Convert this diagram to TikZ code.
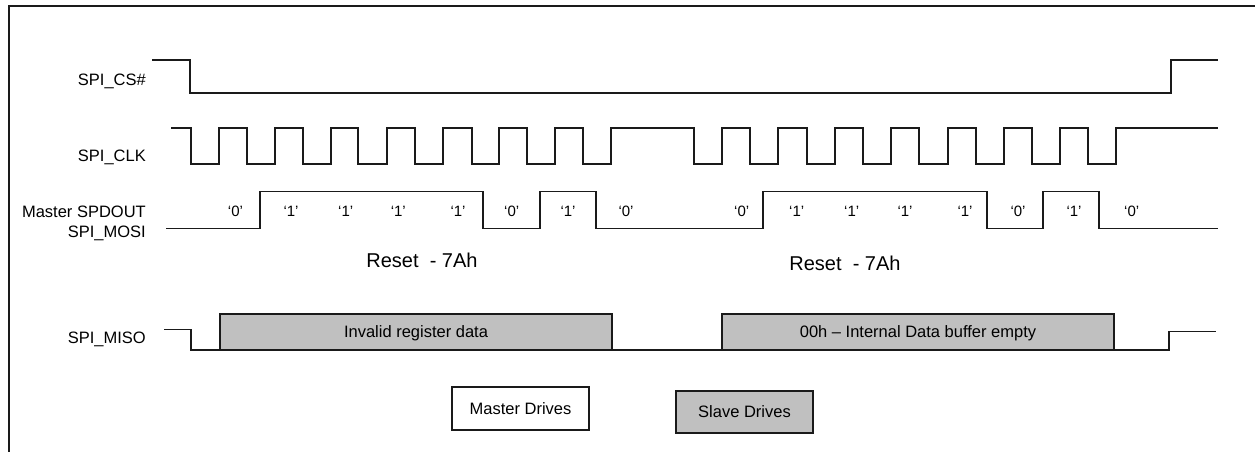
\documentclass[tikz,border=0pt]{standalone}
\usepackage{fontspec}
\setmainfont{Liberation Sans}
\definecolor{boxgray}{HTML}{C0C0C0}
\definecolor{ink}{HTML}{1A1A1A}
\tikzset{
  sig/.style={draw=ink, line width=1.5pt, line join=miter},
  databox/.style={draw=ink, line width=1.5pt, fill=boxgray},
  lbl/.style={anchor=base east, inner sep=0pt, font=\fontsize{16.5}{19.8}\selectfont},
  bit/.style={anchor=base, inner sep=0pt, font=\fontsize{15}{18}\selectfont},
  note/.style={anchor=base, inner sep=0pt, font=\fontsize{20}{24}\selectfont},
  boxtxt/.style={anchor=base, inner sep=0pt, font=\fontsize{16.5}{19.8}\selectfont}
}
\begin{document}
\begin{tikzpicture}[x=1pt,y=-1pt]
\useasboundingbox (0,0) rectangle (1255,452);
% outer frame (cropped)
\draw[ink, line width=2.2pt] (9,470) -- (9,6) -- (1270,6);

% signal names
\node[lbl] (ncs) at (146,85.7) {SPI\_CS\#};
\node[lbl] (nclk) at (146,161) {SPI\_CLK};
\node[lbl] (nmosi1) at (146,217.3) {Master SPDOUT};
\node[lbl] (nmosi2) at (146,237.5) {SPI\_MOSI};
\node[lbl] (nmiso) at (146,343.3) {SPI\_MISO};

% SPI_CS#
\draw[sig] (152,60) -- (190,60) -- (190,93) -- (1171,93) -- (1171,60) -- (1218,60);

% SPI_CLK
\draw[sig] (171,128)
  -- (191,128) -- (191,164) -- (219,164) -- (219,128)
  -- (247,128) -- (247,164) -- (275,164) -- (275,128)
  -- (303,128) -- (303,164) -- (331,164) -- (331,128)
  -- (358,128) -- (358,164) -- (387,164) -- (387,128)
  -- (415,128) -- (415,164) -- (443,164) -- (443,128)
  -- (472,128) -- (472,164) -- (499,164) -- (499,128)
  -- (527,128) -- (527,164) -- (555,164) -- (555,128)
  -- (583,128) -- (583,164) -- (611,164) -- (611,128)
  -- (694,128) -- (694,164) -- (722,164) -- (722,128)
  -- (750,128) -- (750,164) -- (778,164) -- (778,128)
  -- (807,128) -- (807,164) -- (835,164) -- (835,128)
  -- (863,128) -- (863,164) -- (891,164) -- (891,128)
  -- (919,128) -- (919,164) -- (948,164) -- (948,128)
  -- (976,128) -- (976,164) -- (1004,164) -- (1004,128)
  -- (1032,128) -- (1032,164) -- (1060,164) -- (1060,128)
  -- (1088,128) -- (1088,164) -- (1116,164) -- (1116,128)
  -- (1218,128);

% Master SPDOUT / SPI_MOSI
\draw[sig] (166,228.5) -- (260,228.5) -- (260,191.5) -- (483,191.5) -- (483,228.5)
  -- (540,228.5) -- (540,191.5) -- (596,191.5) -- (596,228.5) -- (763,228.5)
  -- (763,191.5) -- (987,191.5) -- (987,228.5) -- (1043,228.5) -- (1043,191.5)
  -- (1099,191.5) -- (1099,228.5) -- (1218,228.5);

% bit values
\node[bit] (b1) at (235.5,216.7) {‘0’};
\node[bit] (b2) at (291,216.7) {‘1’};
\node[bit] (b3) at (345.7,216.7) {‘1’};
\node[bit] (b4) at (398.3,216.7) {‘1’};
\node[bit] (b5) at (458,216.7) {‘1’};
\node[bit] (b6) at (511.7,216.7) {‘0’};
\node[bit] (b7) at (568,216.7) {‘1’};
\node[bit] (b8) at (626,216.7) {‘0’};
\node[bit] (c1) at (741.7,216.7) {‘0’};
\node[bit] (c2) at (796.7,216.7) {‘1’};
\node[bit] (c3) at (851.7,216.7) {‘1’};
\node[bit] (c4) at (905,216.7) {‘1’};
\node[bit] (c5) at (965,216.7) {‘1’};
\node[bit] (c6) at (1018,216.7) {‘0’};
\node[bit] (c7) at (1074,216.7) {‘1’};
\node[bit] (c8) at (1131.7,216.7) {‘0’};

% command names
\node[note] (r1) at (422,267.3) {Reset\ \ - 7Ah};
\node[note] (r2) at (845,270) {Reset\ \ - 7Ah};

% SPI_MISO
\draw[sig] (164,329.5) -- (191,329.5) -- (191,350) -- (220,350);
\draw[databox] (220,314) rectangle (612,350);
\draw[sig] (612,350) -- (722,350);
\draw[databox] (722,314) rectangle (1114,350);
\draw[sig] (1114,350) -- (1169,350) -- (1169,331.5) -- (1216,331.5);
\node[boxtxt] (d1) at (416,337.3) {Invalid register data};
\node[boxtxt] (d2) at (918,337.3) {00h – Internal Data buffer empty};

% legend
\draw[sig, fill=white] (452,387) rectangle (589,430);
\node[boxtxt] (lm) at (520.5,414) {Master Drives};
\draw[databox] (676,391) rectangle (813,433);
\node[boxtxt] (ls) at (744.5,417.3) {Slave Drives};
\end{tikzpicture}
\end{document}
